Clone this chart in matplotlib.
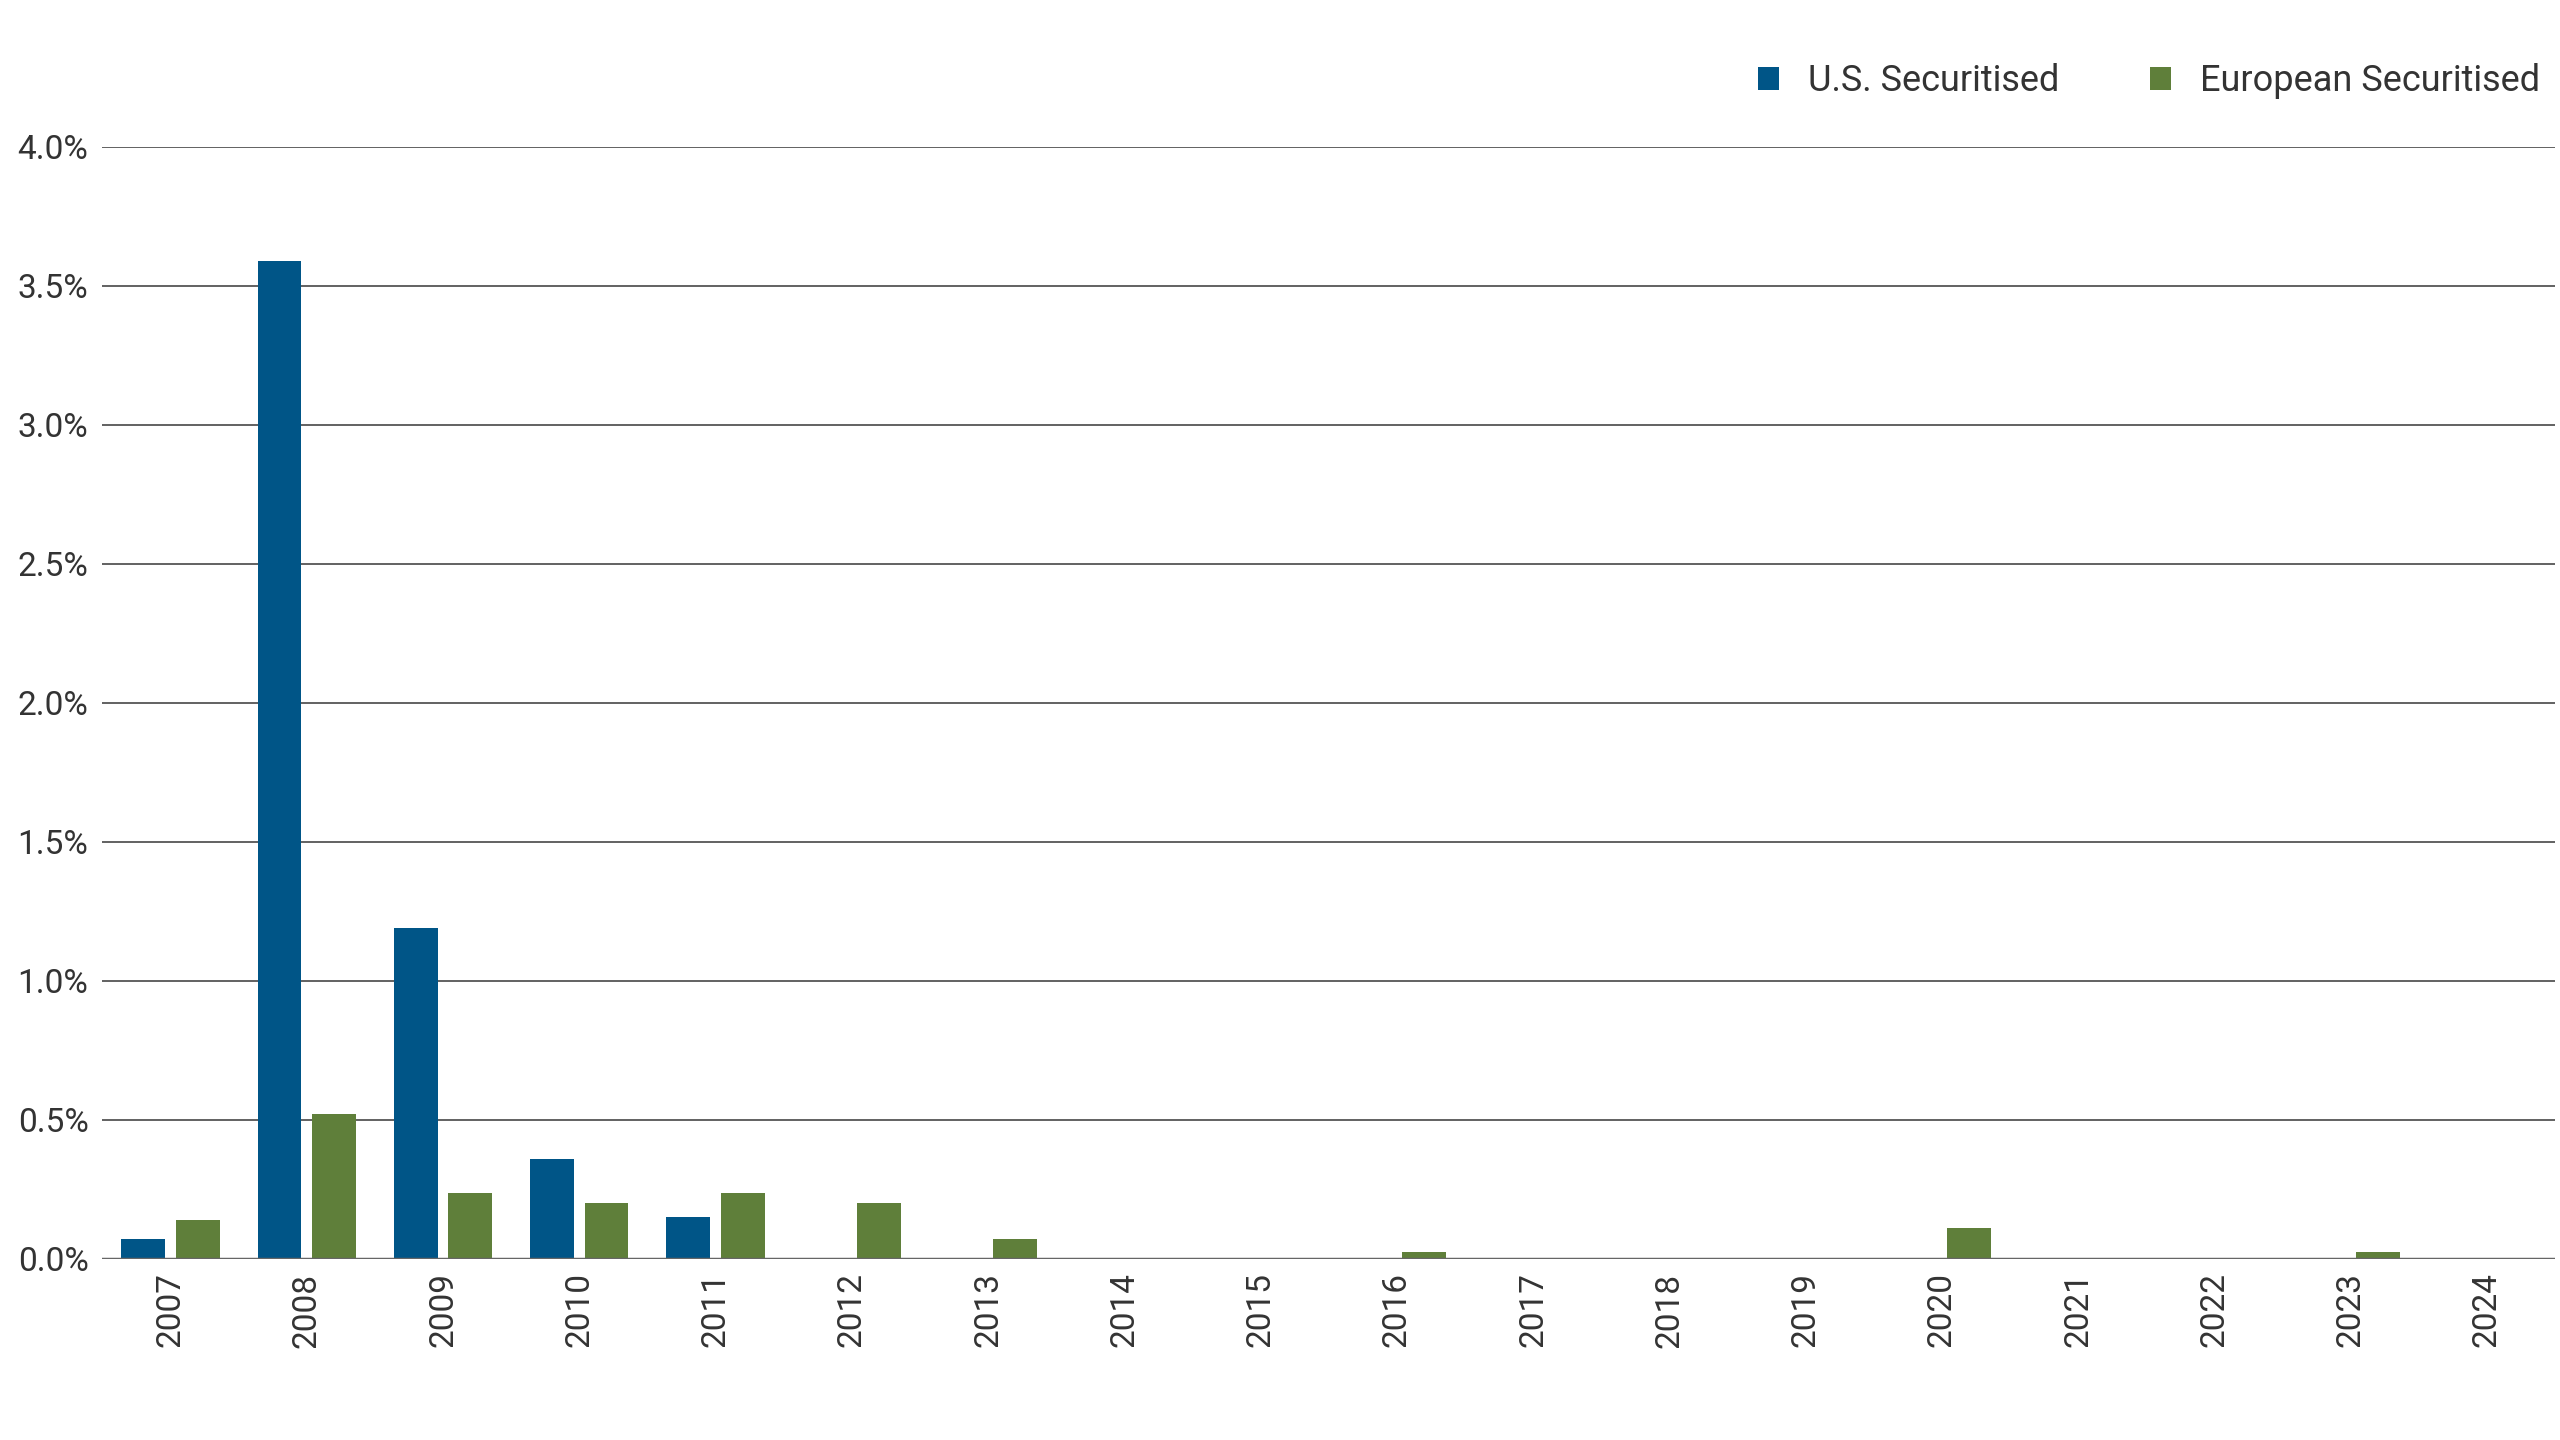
import matplotlib
matplotlib.use("Agg")
import matplotlib.pyplot as plt
import numpy as np

years = [str(y) for y in range(2007, 2025)]
us = [0.07, 3.59, 1.19, 0.36, 0.15, 0, 0, 0, 0, 0, 0, 0, 0, 0, 0, 0, 0, 0]
eu = [0.14, 0.52, 0.235, 0.20, 0.235, 0.20, 0.07, 0, 0, 0.025, 0, 0, 0, 0.11, 0, 0, 0.025, 0]

plt.rcParams['font.family'] = ['Roboto', 'DejaVu Sans']
fig = plt.figure(figsize=(25.6, 14.4), dpi=100)
ax = fig.add_axes([0.04, 0.126, 0.958, 0.772])
x = np.arange(len(years))
w = 0.32
ax.bar(x - 0.2, us, w, color='#005587', label='U.S. Securitised')
ax.bar(x + 0.2, eu, w, color='#5f7f3a', label='European Securitised')
ax.set_ylim(0, 4.0)
ax.set_xlim(-0.5, len(years) - 0.5)
ax.set_yticks(np.arange(0, 4.01, 0.5))
ax.set_yticklabels([f"{v:.1f}%" for v in np.arange(0, 4.01, 0.5)], fontsize=24, color='#333333')
ax.set_xticks(x)
ax.set_xticklabels(years, rotation=90, fontsize=24, color='#333333')
ax.tick_params(length=0, pad=10)
ax.grid(axis='y', color='#555555', linewidth=1.3)
ax.set_axisbelow(True)
for s in ax.spines.values():
    s.set_visible(False)
ax.axhline(0, color='#666666', linewidth=2.5)
ax.legend(loc='lower right', bbox_to_anchor=(1.0, 1.03), ncol=2, frameon=False,
          fontsize=26, handlelength=0.6, handleheight=0.6, columnspacing=2.5,
          labelcolor='#333333', borderaxespad=0)
fig.savefig('out.png', dpi=100)
